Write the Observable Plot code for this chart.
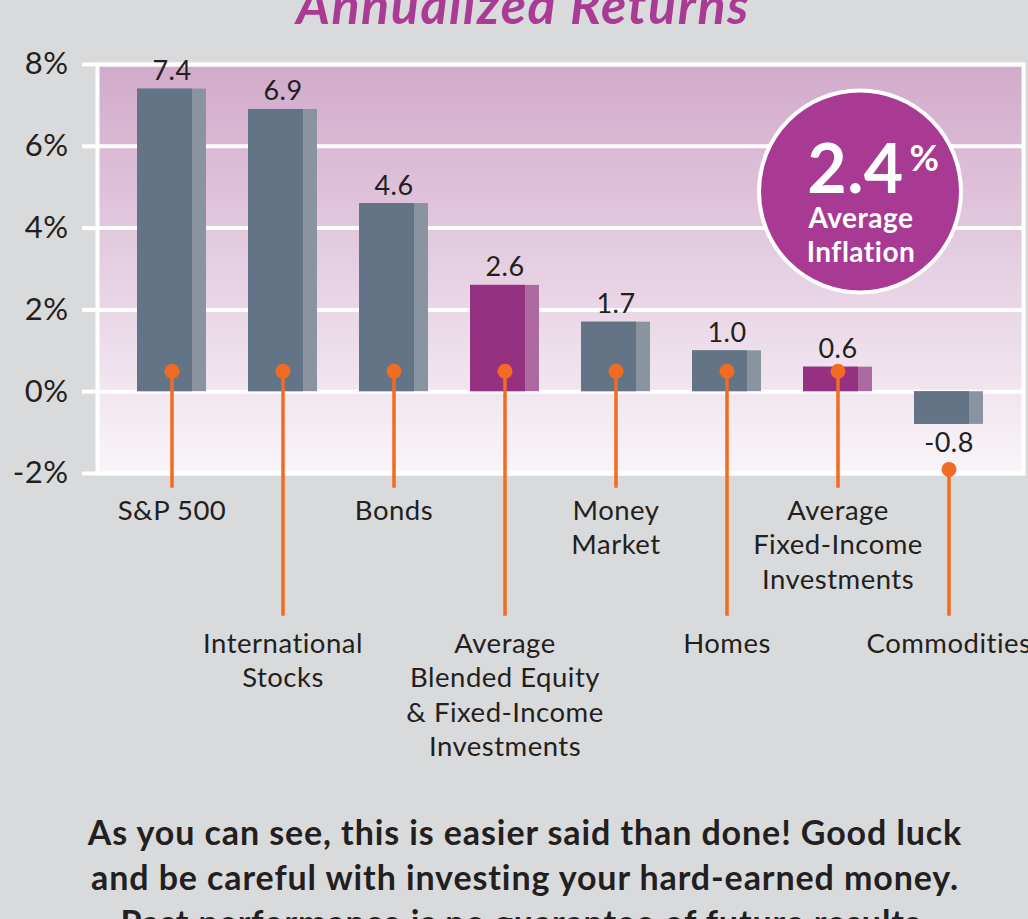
<!DOCTYPE html>
<html>
<head>
<meta charset="utf-8">
<script src="https://cdn.jsdelivr.net/npm/d3@7"></script>
<script src="https://cdn.jsdelivr.net/npm/@observablehq/plot@0.6"></script>
<style>
  html, body { margin: 0; padding: 0; background: #d9dadc; overflow: hidden; }
  #page { position: relative; width: 1028px; height: 919px; overflow: hidden; font-family: Lato, "Open Sans", sans-serif; }
  #title { position: absolute; left: 523px; top: -22px; transform: translateX(-50%); white-space: nowrap;
           font-size: 52px; line-height: 52px; font-style: italic; font-weight: 700; letter-spacing: 1.5px; color: #a93b95; }
  #chart { position: absolute; left: 0; top: 40px; }
  #caption { position: absolute; left: 11px; top: 809px; width: 1028px; text-align: center;
             font-size: 34px; line-height: 45px; font-weight: 700; letter-spacing: 0.9px; color: #231f20; }
</style>
</head>
<body>
<div id="page">
  <div id="title">Annualized Returns</div>
  <div id="chart"></div>
  <div id="caption">As you can see, this is easier said than done! Good luck<br>and be careful with investing your hard-earned money.<br>Past performance is no guarantee of future results.</div>
</div>
<script>
// ---- data ----
const categories = [
  "S&P 500",
  "International\nStocks",
  "Bonds",
  "Average\nBlended Equity\n& Fixed-Income\nInvestments",
  "Money\nMarket",
  "Homes",
  "Average\nFixed-Income\nInvestments",
  "Commodities"
];
const returns = [7.4, 6.9, 4.6, 2.6, 1.7, 1.0, 0.6, -0.8];
const kinds = ["single", "single", "single", "average", "single", "single", "average", "single"];
const yTicks = [-2, 0, 2, 4, 6, 8];
const averageInflation = 2.4;

// ---- styling ----
const palette = {
  single: {front: "#637486", side: "#8a94a0"},
  average: {front: "#963080", side: "#ad6aa2"}
};
const orange = "#f26b22";
const ink = "#231f20";

const data = categories.map((c, i) => ({category: c, value: returns[i], kind: kinds[i], level: i % 2}));
const dotY = d => d.value >= 0 ? 0.5 : -1.9;
const leaderEnd = [-2.36, -5.49];

const chart = Plot.plot({
  width: 1028,
  height: 760,
  marginTop: 24,
  marginBottom: 327,
  marginLeft: 97,
  marginRight: 5,
  style: {background: "transparent", fontFamily: "Lato, 'Open Sans', sans-serif", color: ink, overflow: "visible", letterSpacing: "0.5px"},
  x: {domain: categories, paddingInner: 0.38, paddingOuter: 0.35, align: 0.5, axis: null},
  y: {domain: [-2, 8], axis: null},
  color: {type: "identity"},
  marks: [
    Plot.frame({fill: "url(#bgGrad)", stroke: "white", strokeWidth: 4}),
    Plot.gridY(yTicks, {stroke: "white", strokeWidth: 4, strokeOpacity: 1}),
    Plot.axisY(yTicks, {label: null, tickFormat: d => `${d}%`, tickSize: 15, tickPadding: 14, stroke: "white", strokeWidth: 4, fill: ink, fontSize: 31}),
    Plot.barY(data, {x: "category", y: "value", fill: d => palette[d.kind].side}),
    Plot.barY(data, {x: "category", y: "value", fill: d => palette[d.kind].front, insetRight: 14}),
    Plot.ruleX(data, {x: "category", y1: dotY, y2: d => leaderEnd[d.level], stroke: orange, strokeWidth: 3.5}),
    Plot.dot(data, {x: "category", y: dotY, r: 7.5, fill: orange}),
    Plot.text(data.filter(d => d.value >= 0), {x: "category", y: "value", text: d => d.value.toFixed(1), lineAnchor: "bottom", dy: -9, fontSize: 27, fill: ink}),
    Plot.text(data.filter(d => d.value < 0), {x: "category", y: "value", text: d => d.value.toFixed(1), lineAnchor: "top", dy: 8, fontSize: 27, fill: ink}),
    Plot.text(data.filter(d => d.level === 0), {x: "category", frameAnchor: "bottom", text: "category", textAnchor: "middle", lineAnchor: "top", dy: 22, fontSize: 27.5, lineHeight: 1.25, fill: ink}),
    Plot.text(data.filter(d => d.level === 1), {x: "category", frameAnchor: "bottom", text: "category", textAnchor: "middle", lineAnchor: "top", dy: 155, fontSize: 27.5, lineHeight: 1.25, fill: ink}),
    // inflation badge
    Plot.dot([averageInflation], {x: null, y: null, frameAnchor: "top-right", r: 101, fill: "#a83a94", stroke: "white", strokeWidth: 4, dx: -163.5, dy: 127}),
    Plot.text([averageInflation], {frameAnchor: "top-right", text: d => d.toFixed(1), textAnchor: "middle", fontSize: 68, fontWeight: 700, fill: "white", lineAnchor: "bottom", dx: -168, dy: 128}),
    Plot.text([averageInflation], {frameAnchor: "top-right", text: () => "%", textAnchor: "start", fontSize: 36, fontWeight: 700, fill: "white", lineAnchor: "bottom", dx: -114, dy: 106}),
    Plot.text([averageInflation], {frameAnchor: "top-right", text: () => "Average\nInflation", textAnchor: "middle", fontSize: 28, fontWeight: 700, fill: "white", lineAnchor: "top", lineHeight: 1.22, dx: -162.5, dy: 139})
  ]
});

// gradient used by the frame fill
const defs = d3.select(chart).insert("defs", ":first-child");
const grad = defs.append("linearGradient").attr("id", "bgGrad").attr("x1", 0).attr("y1", 0).attr("x2", 0).attr("y2", 1);
grad.append("stop").attr("offset", "0%").attr("stop-color", "#d2aacb");
grad.append("stop").attr("offset", "100%").attr("stop-color", "#f9f5f9");

document.getElementById("chart").appendChild(chart);
</script>
</body>
</html>
